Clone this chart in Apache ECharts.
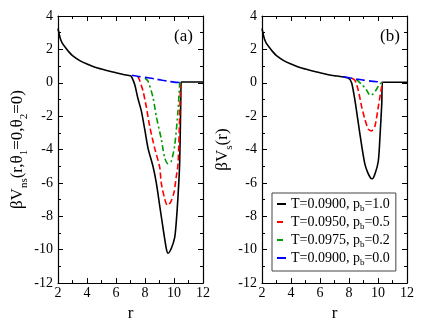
<!DOCTYPE html>
<html>
<head>
<meta charset="utf-8">
<script src="https://cdn.jsdelivr.net/npm/echarts@6/dist/echarts.min.js"></script>
<style>
  html, body { margin: 0; padding: 0; background: #fff; }
  #chart { width: 423px; height: 327px; }
</style>
</head>
<body>
<div id="chart"></div>
<script>
// shared repulsive part, r = 2 .. 7
var headR = [2.0, 2.1, 2.2, 2.35, 2.5, 2.75, 3.0, 3.5, 4.0, 4.5, 5.0, 5.5, 6.0, 6.5, 7.0];
var headV = [3.25, 2.85, 2.55, 2.3, 2.13, 1.85, 1.63, 1.33, 1.12, 0.95, 0.82, 0.7, 0.6, 0.5, 0.42];

// panel (a): non-spherical potential
var aBlackR = [7.06, 7.29, 7.5, 7.75, 7.98, 8.21, 8.55, 8.78, 9.01, 9.24, 9.47, 9.59, 9.81, 10.05, 10.16, 10.28, 10.39, 10.47, 10.5, 12];
var aBlackV = [0.38, -0.1, -0.9, -1.7, -2.78, -3.93, -5.0, -6.0, -7.34, -8.68, -9.93, -10.21, -9.93, -9.26, -8.3, -6.76, -4.85, -1.0, 0.05, 0.05];
var aRedR = [7.5, 7.63, 7.86, 8.09, 8.32, 8.67, 9.01, 9.12, 9.36, 9.54, 9.77, 10.0, 10.16, 10.28, 10.39, 10.45];
var aRedV = [0.38, 0.15, -0.48, -1.44, -2.59, -3.93, -5.04, -6.0, -6.96, -7.34, -7.15, -6.57, -5.6, -4.85, -2.0, 0.05];
var aGreenR = [8.0, 8.21, 8.55, 8.78, 9.12, 9.36, 9.59, 9.81, 10.05, 10.28, 10.39, 10.45];
var aGreenV = [0.28, 0.09, -0.87, -2.02, -3.36, -4.5, -4.85, -4.7, -3.74, -1.63, -0.1, 0.05];
var aBlueR = [7.1, 7.6, 8.2, 8.7, 9.2, 9.6, 10.0, 10.4];
var aBlueV = [0.45, 0.37, 0.3, 0.23, 0.15, 0.09, 0.04, 0.02];

// panel (b): spherical potential
var bBlackR = [7.38, 7.95, 8.18, 8.41, 8.64, 8.87, 9.1, 9.3, 9.5, 9.6, 9.79, 10.02, 10.14, 10.26, 10.32, 12];
var bBlackV = [0.38, 0.28, 0.0, -1.06, -2.4, -3.74, -4.89, -5.4, -5.72, -5.75, -5.47, -4.7, -3.17, -1.25, 0.03, 0.03];
var bRedR = [8.2, 8.41, 8.64, 8.87, 9.1, 9.33, 9.56, 9.79, 10.02, 10.26, 10.32];
var bRedV = [0.27, 0.15, -0.46, -1.42, -2.2, -2.78, -2.88, -2.59, -1.44, -0.2, 0.05];
var bGreenR = [8.5, 8.87, 9.1, 9.22, 9.45, 9.68, 9.91, 10.1, 10.28];
var bGreenV = [0.2, -0.1, -0.3, -0.45, -0.75, -0.66, -0.37, -0.1, 0.04];
var bBlueR = [7.6, 8.0, 8.5, 9.0, 9.5, 10.0, 10.3];
var bBlueV = [0.36, 0.3, 0.22, 0.16, 0.1, 0.06, 0.04];

var names = ['T=0.0900, p_b=1.0', 'T=0.0950, p_b=0.5', 'T=0.0975, p_b=0.2', 'T=0.0900, p_b=0.0'];
var colors = ['#000000', '#ff0000', '#009900', '#0000ff'];
var dashes = ['solid', [6, 3], [6, 3, 2, 3], [9, 4]];

function pairs(r, v) {
    return r.map(function(x, i) { return [x, v[i]]; });
}

var font = 'Liberation Serif';

function xAx(idx, show) {
    return {
        type: 'value', gridIndex: idx, min: 2, max: 12, interval: 2,
        position: show ? 'bottom' : 'top',
        name: show ? 'r' : '', nameLocation: 'middle', nameGap: 14,
        nameTextStyle: { fontFamily: font, fontSize: 17, color: '#000' },
        axisLine: { onZero: false, lineStyle: { color: '#000', width: 1.2 } },
        axisTick: { inside: true, length: 5, lineStyle: { color: '#000' } },
        minorTick: { show: true, splitNumber: 2, length: 3, lineStyle: { color: '#000' } },
        axisLabel: { show: show, margin: 3, fontFamily: font, fontSize: 14, color: '#000' },
        splitLine: { show: false }
    };
}

function yAx(idx, show, name, gap) {
    return {
        type: 'value', gridIndex: idx, min: -12, max: 4, interval: 2,
        position: show ? 'left' : 'right',
        name: name, nameLocation: 'middle', nameGap: gap,
        nameTextStyle: {
            fontFamily: font, color: '#000',
            rich: {
                m: { fontFamily: font, fontSize: 17, color: '#000', lineHeight: 24, verticalAlign: 'middle' },
                s: { fontFamily: font, fontSize: 11, color: '#000', lineHeight: 24, verticalAlign: 'bottom' }
            }
        },
        axisLine: { onZero: false, lineStyle: { color: '#000', width: 1.2 } },
        axisTick: { inside: true, length: 5, lineStyle: { color: '#000' } },
        minorTick: { show: true, splitNumber: 2, length: 3, lineStyle: { color: '#000' } },
        axisLabel: { show: show, margin: 5, fontFamily: font, fontSize: 14, color: '#000' },
        splitLine: { show: false }
    };
}

var panels = [
    [aBlackR, aBlackV, aRedR, aRedV, aGreenR, aGreenV, aBlueR, aBlueV],
    [bBlackR, bBlackV, bRedR, bRedV, bGreenR, bGreenV, bBlueR, bBlueV]
];

var series = [];
panels.forEach(function(p, g) {
    for (var k = 0; k < 4; k++) {
        var r = p[2 * k], v = p[2 * k + 1];
        if (k === 0) { r = headR.concat(r); v = headV.concat(v); }
        series.push({
            name: names[k],
            type: 'line',
            xAxisIndex: g * 2,
            yAxisIndex: g * 2,
            data: pairs(r, v),
            symbol: 'none',
            smooth: 0.25,
            animation: false,
            lineStyle: { color: colors[k], width: 1.6, type: dashes[k] },
            itemStyle: { color: colors[k] },
            z: 2 + k
        });
    }
});

var chart = echarts.init(document.getElementById('chart'));
chart.setOption({
    backgroundColor: '#fff',
    animation: false,
    title: [
        { text: '(a)', left: 169, top: 23, textStyle: { fontFamily: font, fontSize: 17, fontWeight: 'normal', color: '#000' } },
        { text: '(b)', left: 375, top: 23, textStyle: { fontFamily: font, fontSize: 17, fontWeight: 'normal', color: '#000' } }
    ],
    grid: [
        { left: 58, right: 220, top: 16, bottom: 33 },
        { left: 262, right: 16, top: 16, bottom: 33 }
    ],
    xAxis: [xAx(0, true), xAx(0, false), xAx(1, true), xAx(1, false)],
    yAxis: [
        yAx(0, true, '{m|βV}{s|ns}{m|(r,θ}{s|1}{m|=0,θ}{s|2}{m|=0)}', 28),
        yAx(0, false, '', 0),
        yAx(1, true, '{m|βV}{s|s}{m|(r)}', 24),
        yAx(1, false, '', 0)
    ],
    legend: {
        data: names,
        orient: 'vertical',
        left: 272, top: 193,
        backgroundColor: '#fff',
        borderColor: '#444', borderWidth: 1,
        padding: [4, 6, 4, 4],
        itemGap: 2,
        itemWidth: 9, itemHeight: 2,
        formatter: function(n) {
            var parts = n.split('p_b');
            return '{t|' + parts[0] + 'p}{s|b}{t|' + parts[1] + '}';
        },
        textStyle: {
            rich: {
                t: { fontFamily: font, fontSize: 14, color: '#000', lineHeight: 18, verticalAlign: 'middle' },
                s: { fontFamily: font, fontSize: 9, color: '#000', lineHeight: 18, verticalAlign: 'bottom' }
            }
        }
    },
    series: series
});
</script>
</body>
</html>
